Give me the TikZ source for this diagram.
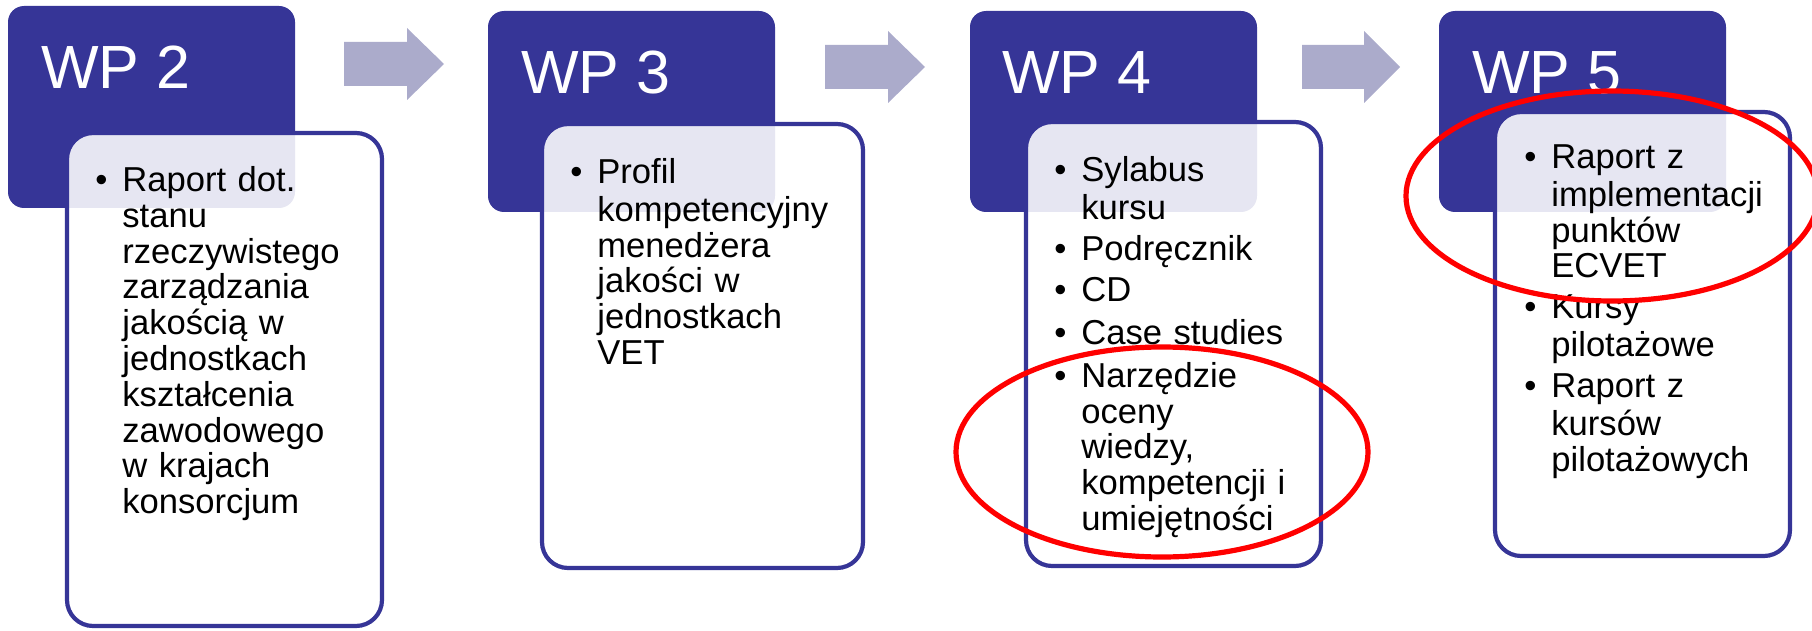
\documentclass[tikz,border=0pt]{standalone}
\usepackage{fontspec}
\setmainfont{Liberation Sans}
\usetikzlibrary{fit,shapes.geometric}
\definecolor{wpblue}{RGB}{54,53,151}
\definecolor{arrowc}{RGB}{171,171,203}
\definecolor{ovalred}{RGB}{255,0,0}
\newcommand\bitem[1]{\parskip=0pt\relax\hangindent=13.5pt\relax\hangafter=1\relax\noindent\strut\makebox[13.5pt][l]{\textbullet}#1\par}
\newcommand\bgap{\vskip2.6pt\relax}
\begin{document}
\begin{tikzpicture}[x=0.5pt,y=-0.5pt,
  wpbox/.style={fill=wpblue, rounded corners=8pt, inner sep=0pt},
  listbox/.style={draw=wpblue, line width=2.1pt, fill=white, fill opacity=0.88, rounded corners=13pt, inner sep=0pt},
  wplabel/.style={text=white, font=\fontsize{30.5}{36}\selectfont, anchor=base west, inner sep=0pt},
  listtext/.style={anchor=north west, inner sep=0pt, text width=140pt, align=left, font=\fontsize{17.3}{17.9}\selectfont},
  oval/.style={draw=ovalred, line width=2.6pt, ellipse, inner sep=0pt, minimum width=206pt, minimum height=105pt},
  blockarrow/.style={fill=arrowc}]
\useasboundingbox (0,0) rectangle (1812,631);
% dark header boxes
\node[wpbox, fit={(8,6) (295,208)}] (d2) {};
\node[wpbox, fit={(488,11) (775,212)}] (d3) {};
\node[wpbox, fit={(970,11) (1257,212)}] (d4) {};
\node[wpbox, fit={(1439,11) (1726,212)}] (d5) {};
% block arrows
\fill[blockarrow, shift={(344,64)}] (0,-22) -- (63,-22) -- (63,-36) -- (100,0) -- (63,36) -- (63,22) -- (0,22) -- cycle;
\fill[blockarrow, shift={(825,67)}] (0,-22) -- (63,-22) -- (63,-36) -- (100,0) -- (63,36) -- (63,22) -- (0,22) -- cycle;
\fill[blockarrow, shift={(1302,67)}] (0,-22) -- (62,-22) -- (62,-36) -- (98,0) -- (62,36) -- (62,22) -- (0,22) -- cycle;
% white list boxes
\node[listbox, fit={(67,133) (382,626)}] (w2) {};
\node[listbox, fit={(542,124) (863,568)}] (w3) {};
\node[listbox, fit={(1026,122) (1321,566)}] (w4) {};
\node[listbox, fit={(1495,112) (1790,556)}] (w5) {};
% header labels
\node[wplabel] (l2) at (41,89) {WP 2};
\node[wplabel] (l3) at (521,94) {WP 3};
\node[wplabel] (l4) at (1002,94) {WP 4};
\node[wplabel] (l5) at (1472,94) {WP 5};
% list texts
\node[listtext] (t2) at (95,166) {\bitem{Raport dot.\newline stanu\newline rzeczywistego\newline zarządzania\newline jakością w\newline jednostkach\newline kształcenia\newline zawodowego\newline w krajach\newline konsorcjum}};
\node[listtext] (t3) at (570,158) {\bitem{Profil\newline kompetencyjny\newline menedżera\newline jakości w\newline jednostkach\newline VET}};
\node[listtext] (t4) at (1054,156) {\bitem{Sylabus\newline kursu}\bgap\bitem{Podręcznik}\bgap\bitem{CD}\bgap\bitem{Case studies}\bgap\bitem{Narzędzie\newline oceny\newline wiedzy,\newline kompetencji i\newline umiejętności}};
\node[listtext] (t5) at (1524,143) {\bitem{Raport z\newline implementacji\newline punktów\newline ECVET}\bgap\bitem{Kursy\newline pilotażowe}\bgap\bitem{Raport z\newline kursów\newline pilotażowych}};
% red highlight ovals
\node[oval] (o4) at (1162,452) {};
\node[oval] (o5) at (1612,196) {};
\end{tikzpicture}
\end{document}
